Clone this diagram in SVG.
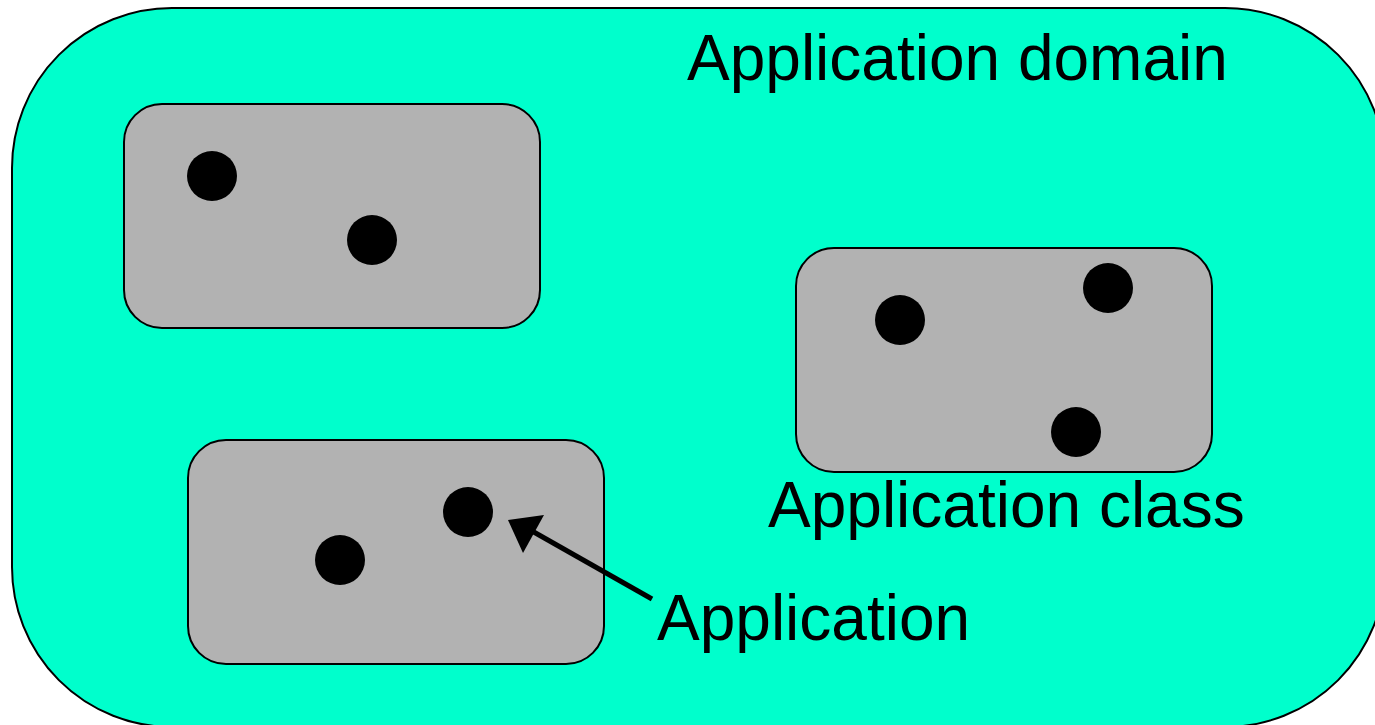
<svg xmlns="http://www.w3.org/2000/svg" width="1375" height="725" viewBox="0 0 1375 725">
  <style>
    .domain { fill: #00ffcc; stroke: #000; stroke-width: 2; }
    .cls { fill: #b2b2b2; stroke: #000; stroke-width: 2; }
    .app { fill: #000; }
    .label { font-family: "Liberation Sans", Arial, sans-serif; font-size: 64px; fill: #000; }
    .link { stroke: #000; stroke-width: 5; fill: none; }
  </style>
  <rect width="1375" height="725" fill="#fff"/>

  <g id="application-domain">
    <rect class="domain" x="12" y="8" width="1373" height="719" rx="160" ry="160"/>
    <text class="label" x="687" y="80">Application domain</text>
  </g>

  <g id="class-top-left">
    <rect class="cls" x="124" y="104" width="416" height="224" rx="38" ry="38"/>
    <circle class="app" cx="212" cy="176" r="25"/>
    <circle class="app" cx="372" cy="240" r="25"/>
  </g>

  <g id="class-right">
    <rect class="cls" x="796" y="248" width="416" height="224" rx="38" ry="38"/>
    <circle class="app" cx="900" cy="320" r="25"/>
    <circle class="app" cx="1108" cy="288" r="25"/>
    <circle class="app" cx="1076" cy="432" r="25"/>
    <text class="label" x="768" y="527">Application class</text>
  </g>

  <g id="class-bottom-left">
    <rect class="cls" x="188" y="440" width="416" height="224" rx="38" ry="38"/>
    <circle class="app" cx="468" cy="512" r="25"/>
    <circle class="app" cx="340" cy="560" r="25"/>
  </g>

  <g id="application-label">
    <text class="label" x="657" y="640">Application</text>
  </g>

  <g id="connectors">
    <line class="link" x1="652" y1="599" x2="532" y2="531"/>
    <polygon points="508,520 544,515 523,553" fill="#000"/>
  </g>
</svg>
